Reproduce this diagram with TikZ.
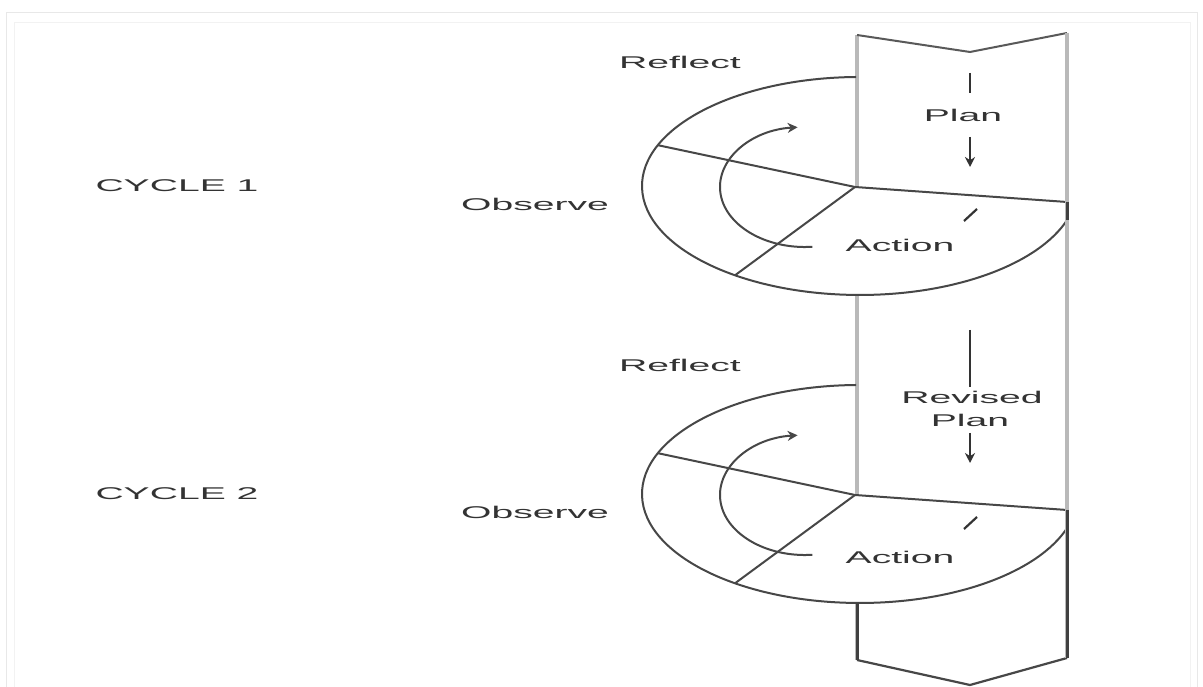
\documentclass[tikz,border=0pt]{standalone}
\usepackage{fontspec}
\setmainfont{Liberation Sans}
\usetikzlibrary{arrows.meta,calc}
\begin{document}
\begin{tikzpicture}[x=1pt,y=1pt,
  lbl/.style={font=\fontsize{17}{19}\selectfont, text=black!80, inner sep=0pt, xscale=2.3, transform shape},
  ln/.style={draw=black!72, line width=2pt},
  bandedge/.style={draw=gray!55, line width=4.5pt},
  darkedge/.style={draw=black!75, line width=3pt},
  tickln/.style={draw=black!80, line width=2.2pt},
  tip/.style={-{Stealth[length=10pt,width=10pt]}}]
\useasboundingbox (0,0) rectangle (1203,687);
\fill[white] (0,0) rectangle (1203,687);
% faint frame
\draw[gray!18, line width=1pt] (6,-5) -- (6,674) -- (1197,674) -- (1197,-5);
\draw[gray!10, line width=0.8pt] (14,-5) -- (14,665) -- (1190,665) -- (1190,-5);
% band
\coordinate (BTL) at (857,652);
\coordinate (BTN) at (970,635);
\coordinate (BTR) at (1067,654);
\coordinate (BBL) at (857,27);
\coordinate (BBP) at (970,2);
\coordinate (BBR) at (1067,29);
\fill[white] (BTL) -- (BTN) -- (BTR) -- (BBR) -- (BBP) -- (BBL) -- cycle;
\draw[bandedge] (BTL) -- (BBL);
\draw[draw=black!65, line width=2pt] (BTL) -- (BTN) -- (BTR);
\draw[draw=black!72, line width=2.2pt] (BBL) -- (BBP) -- (BBR);
% cycles
\foreach \dy/\n in {0/1,308/2}{
  \begin{scope}[yshift=-\dy]
    \coordinate (C\n) at (855,500);
    \coordinate (R\n) at (1067,485);
    \coordinate (RE\n) at (1067,466.8);
    \coordinate (UL\n) at (657.9,541.8);
    \coordinate (LL\n) at (735,411.7);
    \coordinate (TOP\n) at (856.2,610);
    \coordinate (BOT\n) at (857,392);
    \coordinate (IB\n) at (812.4,440.2);
    % Action sector in front of the band
    \fill[white] (C\n) -- (R\n) -- (RE\n) arc[start angle=-18.3, end angle=-125, x radius=218, y radius=109] -- cycle;
    % visible outline of the disc
    \draw[ln] (TOP\n) arc[start angle=91, end angle=341.7, x radius=218, y radius=109];
    \draw[ln] (UL\n) -- (C\n) -- (R\n);
    \draw[ln] (C\n) -- (LL\n);
    % rotation arrow
    \draw[ln, tip] (IB\n) arc[start angle=275, end angle=95, x radius=85, y radius=60];
    % slash in action
    \coordinate (S\n a) at (964,466);
    \coordinate (S\n b) at (977,478);
    \draw[tickln] (S\n a) -- (S\n b);
  \end{scope}
}
% right band edge on top
\draw[bandedge] (BTR) -- (BBR);
\draw[darkedge] (R1) -- (RE1);
\draw[darkedge] (R2) -- (BBR);
\draw[darkedge] (BOT2) -- (BBL);
% plan marks
\coordinate (P1a) at (970,614); \coordinate (P1b) at (970,594);
\coordinate (P1c) at (970,550); \coordinate (P1d) at (970,520);
\draw[tickln] (P1a) -- (P1b);
\draw[tickln, tip] (P1c) -- (P1d);
\coordinate (P2a) at (970,357); \coordinate (P2b) at (970,300);
\coordinate (P2c) at (970,254); \coordinate (P2d) at (970,224);
\draw[tickln] (P2a) -- (P2b);
\draw[tickln, tip] (P2c) -- (P2d);
% labels
\node[lbl] (cy1) at (177,501) {CYCLE 1};
\node[lbl] (cy2) at (177,193) {CYCLE 2};
\node[lbl] (ob1) at (535,483) {Observe};
\node[lbl] (ob2) at (535,175) {Observe};
\node[lbl] (rf1) at (680,625) {Reflect};
\node[lbl] (rf2) at (680,322) {Reflect};
\node[lbl] (pl1) at (963,572) {Plan};
\node[lbl] (rv2) at (972,290) {Revised};
\node[lbl] (pl2) at (970,267) {Plan};
\node[lbl] (ac1) at (900,442) {Action};
\node[lbl] (ac2) at (900,130) {Action};
\end{tikzpicture}
\end{document}
